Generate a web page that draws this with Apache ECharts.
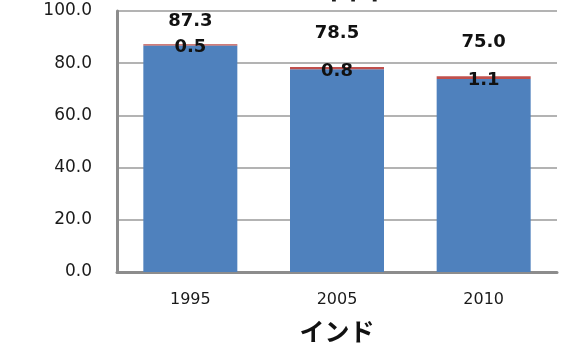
<!DOCTYPE html>
<html>
<head>
<meta charset="utf-8">
<script src="https://cdn.jsdelivr.net/npm/echarts@6/dist/echarts.min.js"></script>
<style>
  html, body { margin: 0; padding: 0; background: #ffffff; }
  #chart { width: 577px; height: 350px; }
</style>
</head>
<body>
<div id="chart"></div>
<script>
// India: stacked share by year, with the total above each bar
const years = ['1995', '2005', '2010'];
const baseValues = [86.8, 77.7, 73.9];   // blue portion
const topValues = [0.5, 0.8, 1.1];       // red portion
const totals = [87.3, 78.5, 75.0];       // value stated above each bar
const yTicks = { min: 0, max: 100, interval: 20 };
const countryName = 'インド';
const clippedHeading = '中国';

const numFont = '"DejaVu Sans", Verdana, sans-serif';
const cjkFont = '"Noto Sans CJK JP", sans-serif';

const chart = echarts.init(document.getElementById('chart'), null, { renderer: 'canvas' });

// the first total sits lower because it would otherwise run past the plot top
const totalData = totals.map((v, i) => i === 0
  ? { value: v, label: { distance: 14 } }
  : { value: v });

chart.setOption({
  animation: false,
  backgroundColor: '#ffffff',
  grid: { left: 117, right: 20, top: 11, bottom: 78, containLabel: false },
  graphic: [{
    type: 'text',
    left: 319,
    top: -28,
    style: {
      text: clippedHeading,
      font: 'bold 30px ' + cjkFont,
      fill: '#1a1a1a'
    }
  }],
  xAxis: {
    type: 'category',
    data: years,
    name: countryName,
    nameLocation: 'middle',
    nameGap: 47,
    nameTextStyle: { fontFamily: cjkFont, fontSize: 25, fontWeight: 'bold', color: '#111' },
    axisLine: { show: true, lineStyle: { color: '#8c8c8c', width: 3 } },
    axisTick: { show: false },
    axisLabel: { margin: 20, fontFamily: numFont, fontSize: 16, color: '#1a1a1a' }
  },
  yAxis: {
    type: 'value',
    min: yTicks.min,
    max: yTicks.max,
    interval: yTicks.interval,
    axisLine: { show: true, lineStyle: { color: '#8c8c8c', width: 3 } },
    axisTick: { show: false },
    splitLine: { show: true, lineStyle: { color: '#b3b3b3', width: 2 } },
    axisLabel: {
      margin: 25,
      fontFamily: numFont,
      fontSize: 17,
      color: '#1a1a1a',
      formatter: v => v.toFixed(1)
    }
  },
  series: [
    {
      name: 'base',
      type: 'bar',
      stack: 'share',
      barWidth: 94,
      data: baseValues,
      itemStyle: { color: '#4f81bd' },
      z: 2
    },
    {
      name: 'top',
      type: 'bar',
      stack: 'share',
      barWidth: 94,
      data: topValues,
      itemStyle: { color: '#c0504d' },
      label: {
        show: true,
        position: 'inside',
        offset: [0, 3],
        fontFamily: numFont,
        fontSize: 18,
        fontWeight: 'bold',
        color: '#111',
        formatter: p => p.value.toFixed(1)
      },
      z: 3
    },
    {
      name: 'total',
      type: 'bar',
      barWidth: 94,
      barGap: '-100%',
      data: totalData,
      itemStyle: { color: 'rgba(0,0,0,0)' },
      label: {
        show: true,
        position: 'top',
        distance: 25,
        fontFamily: numFont,
        fontSize: 18,
        fontWeight: 'bold',
        color: '#111',
        formatter: p => p.value.toFixed(1)
      },
      z: 1
    }
  ]
});
</script>
</body>
</html>
